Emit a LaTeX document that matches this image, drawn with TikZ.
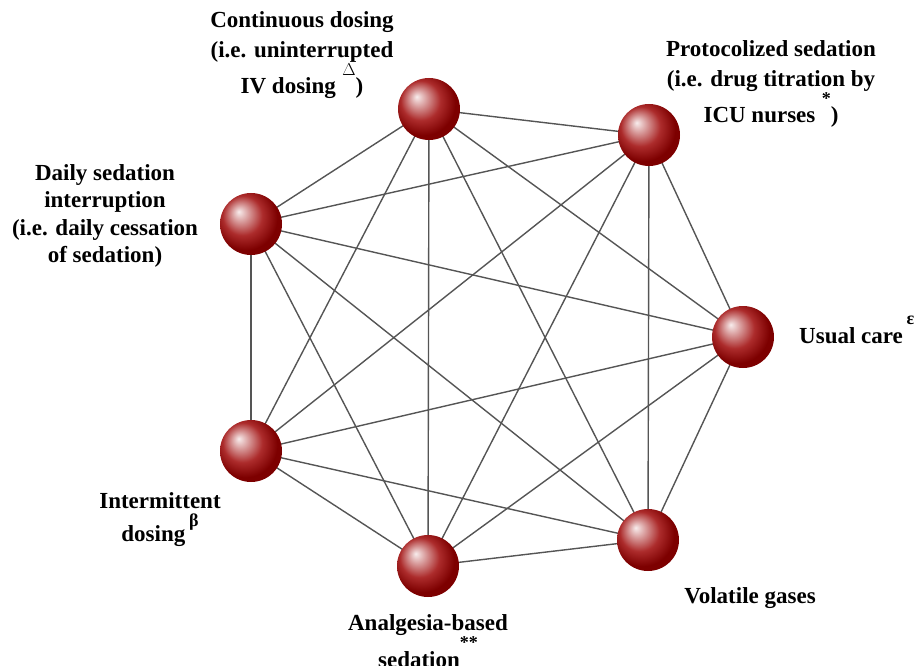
\documentclass[tikz,border=0pt]{standalone}
\usepackage{fontspec}
\setmainfont{Liberation Serif}
\usepackage{xcolor}
\usepackage{tikz}
\usetikzlibrary{backgrounds}
\definecolor{ballred}{RGB}{165,25,25}
\definecolor{balledge}{RGB}{125,0,0}
\definecolor{edgegray}{RGB}{85,85,85}
\pgfdeclareradialshading{redball}{\pgfpoint{-10bp}{10bp}}{%
    color(0bp)=(ballred!8!white); color(7bp)=(ballred!45!white);
    color(16bp)=(ballred!92!white); color(26bp)=(balledge); color(50bp)=(balledge)}
\tikzset{
    ball/.style = {circle, inner sep=0pt, minimum size=62pt, shading=redball},
    lbl/.style = {align=center, inner sep=0pt, font=\fontsize{23}{30}\selectfont\bfseries},
    link/.style = {draw=edgegray, line width=1.4pt}
}
\newcommand{\supmark}[2][0.8em]{\raisebox{#1}{\fontsize{18}{18}\selectfont #2}}

\begin{document}
\begin{tikzpicture}[x=1pt, y=-1pt]
    \useasboundingbox (0,0) rectangle (914,666);
    % treatments
    \node [ball] (cont)  at (429,109) {};
    \node [ball] (proto) at (649,135) {};
    \node [ball] (daily) at (251,224) {};
    \node [ball] (usual) at (743,337) {};
    \node [ball] (inter) at (251,451) {};
    \node [ball] (analg) at (428,566) {};
    \node [ball] (volat) at (648,540) {};
    % labels
    \node [lbl] (cont-l)  at (302,55)  {Continuous dosing\\(i.e. uninterrupted\\IV dosing\;\supmark{$\Delta$})};
    \node [lbl] (proto-l) at (771,84)  {Protocolized sedation\\(i.e. drug titration by\\ICU nurses\;\supmark{*})};
    \node [lbl, font=\fontsize{23}{27.5}\selectfont\bfseries] (daily-l) at (105,216) {Daily sedation\\interruption\\(i.e. daily cessation\\of sedation)};
    \node [lbl, anchor=base west] (usual-l) at (799,343) {Usual care\,\supmark{ε}};
    \node [lbl] (inter-l) at (160,520) {Intermittent\\[3pt]dosing\,\supmark[0.65em]{β}};
    \node [lbl] (analg-l) at (428,641) {Analgesia-based\\sedation\supmark{**}};
    \node [lbl] (volat-l) at (750,598) {Volatile gases};
    % comparisons
    \begin{scope}[on background layer]
        \foreach \a/\b in {cont/proto, cont/daily, cont/usual, cont/inter, cont/analg, cont/volat,
                           proto/daily, proto/usual, proto/inter, proto/analg, proto/volat,
                           daily/usual, daily/inter, daily/analg, daily/volat,
                           usual/inter, usual/analg, usual/volat,
                           inter/analg, inter/volat, analg/volat}
            \draw [link] (\a.center) -- (\b.center);
    \end{scope}
\end{tikzpicture}
\end{document}
